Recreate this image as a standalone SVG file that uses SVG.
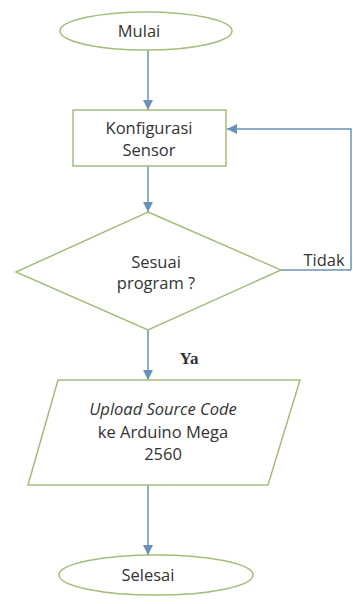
<svg xmlns="http://www.w3.org/2000/svg" width="353" height="604" viewBox="0 0 353 604">
<defs>
<style>
.shape{fill:#fff;stroke:#a4bd7c;stroke-width:1.5}
.conn{fill:none;stroke:#6a92b8;stroke-width:1.5}
.t{font-family:"Open Sans","Liberation Sans",sans-serif;font-size:16.5px;fill:#333;text-anchor:middle}
</style>
<marker id="a" viewBox="0 0 10 10" refX="10" refY="5" markerWidth="10" markerHeight="10" orient="auto" markerUnits="userSpaceOnUse">
<path d="M0,0 L10,5 L0,10 Z" fill="#6a92b8"/>
</marker>
</defs>
<rect width="353" height="604" fill="#fff"/>
<g id="connectors">
<line class="conn" x1="148" y1="50" x2="148" y2="110" marker-end="url(#a)"/>
<line class="conn" x1="148" y1="166" x2="148" y2="212" marker-end="url(#a)"/>
<line class="conn" x1="281" y1="270" x2="351" y2="270"/>
<polyline class="conn" points="351,270 351,129 227,129" marker-end="url(#a)"/>
<line class="conn" x1="148" y1="330" x2="148" y2="380" marker-end="url(#a)"/>
<line class="conn" x1="148" y1="485" x2="148" y2="555" marker-end="url(#a)"/>
</g>
<g id="mulai">
<ellipse class="shape" cx="146" cy="31" rx="86" ry="19"/>
<text class="t" x="139" y="37">Mulai</text>
</g>
<g id="konfigurasi">
<rect class="shape" x="73" y="110" width="153" height="56"/>
<text class="t" x="149" y="134">Konfigurasi</text>
<text class="t" x="149" y="156">Sensor</text>
</g>
<g id="sesuai">
<polygon class="shape" points="148,212 281,270 148,330 16,272"/>
<text class="t" x="156" y="268">Sesuai</text>
<text class="t" x="156" y="289">program ?</text>
</g>
<g id="tidak-label">
<text class="t" x="324" y="266">Tidak</text>
</g>
<g id="ya-label">
<text x="189" y="364" font-family="Liberation Serif,serif" font-size="17" font-weight="bold" fill="#333" text-anchor="middle">Ya</text>
</g>
<g id="upload">
<polygon class="shape" points="58,380 300,380 268,485 28,485"/>
<text class="t" x="163" y="415" font-style="italic">Upload Source Code</text>
<text class="t" x="163" y="438">ke Arduino Mega</text>
<text class="t" x="163" y="460">2560</text>
</g>
<g id="selesai">
<ellipse class="shape" cx="156" cy="575" rx="97" ry="20"/>
<text class="t" x="148" y="581">Selesai</text>
</g>
</svg>
